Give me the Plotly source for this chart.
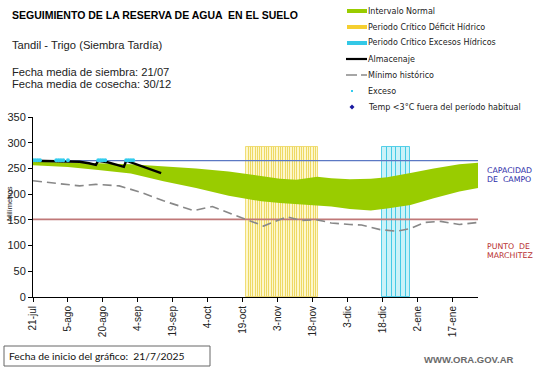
import plotly.graph_objects as go
import pandas as pd

# ---------------- data ----------------
start_date = "2025-07-21"
end_date = "2026-01-28"

tick_dates = ["2025-07-21", "2025-08-05", "2025-08-20", "2025-09-04", "2025-09-19",
              "2025-10-04", "2025-10-19", "2025-11-03", "2025-11-18", "2025-12-03",
              "2025-12-18", "2026-01-02", "2026-01-17"]
tick_labels = ["21-jul", "5-ago", "20-ago", "4-sep", "19-sep", "4-oct", "19-oct",
               "3-nov", "18-nov", "3-dic", "18-dic", "2-ene", "17-ene"]

normal_dates = ["2025-07-21", "2025-08-05", "2025-08-18", "2025-09-01", "2025-09-15",
                "2025-09-29", "2025-10-13", "2025-10-27", "2025-11-04", "2025-11-11",
                "2025-11-20", "2025-11-26", "2025-12-04", "2025-12-13", "2025-12-20",
                "2025-12-30", "2026-01-09", "2026-01-20", "2026-01-28"]
normal_upper = [263, 262, 260, 258, 254, 250, 244, 236, 230, 228, 234, 231, 229, 230,
                233, 241, 250, 258, 261]
normal_lower = [256, 253, 247, 240, 225, 212, 197, 186, 183, 181, 179, 176, 171, 168,
                172, 179, 192, 205, 212]

min_dates = ["2025-07-21", "2025-07-28", "2025-08-10", "2025-08-17", "2025-08-27",
             "2025-09-05", "2025-09-15", "2025-09-28", "2025-10-06", "2025-10-14",
             "2025-10-21", "2025-10-28", "2025-11-07", "2025-11-13", "2025-11-20",
             "2025-11-26", "2025-12-04", "2025-12-09", "2025-12-17", "2025-12-24",
             "2025-12-30", "2026-01-05", "2026-01-12", "2026-01-20", "2026-01-28"]
min_values = [226, 223, 216, 219, 216, 204, 187, 168, 176, 162, 150, 138, 156, 149, 150,
              144, 141, 140, 131, 128, 133, 145, 147, 141, 145]

alm_dates = ["2025-07-21", "2025-07-25", "2025-07-29", "2025-08-02", "2025-08-06",
             "2025-08-10", "2025-08-14", "2025-08-17", "2025-08-18", "2025-08-22",
             "2025-08-26", "2025-08-29", "2025-08-30", "2025-09-03", "2025-09-07",
             "2025-09-11", "2025-09-14"]
alm_values = [265, 264.5, 264, 264, 264, 263, 260, 257, 265, 262, 257, 253, 265, 259,
              252, 246, 241]

exceso_dates = ["2025-07-21", "2025-07-22", "2025-07-23", "2025-07-24",
                "2025-07-31", "2025-08-01", "2025-08-02", "2025-08-03", "2025-08-05",
                "2025-08-18", "2025-08-19", "2025-08-20", "2025-08-21",
                "2025-08-30", "2025-08-31", "2025-09-01", "2025-09-02"]
exceso_value = 266

deficit_start, deficit_end = "2025-10-21", "2025-11-20"
excesos_start, excesos_end = "2025-12-19", "2025-12-30"
critico_height = 292

capacidad_campo = 265
punto_marchitez = 151

# ---------------- geometry helpers (pixel -> paper) ----------------
W, H = 541, 368
L, R, T, B = 33, 478, 117, 297


def px(x):
    return (x - L) / (R - L)


def py(y):
    return (B - y) / (B - T)


FONT = "Liberation Sans, Arial, sans-serif"
SMALL = "DejaVu Sans, sans-serif"

fig = go.Figure()

# Intervalo normal
fig.add_trace(go.Scatter(x=normal_dates, y=normal_lower, mode="lines",
                         line=dict(width=0, color="#99cc00"), showlegend=False,
                         hoverinfo="skip"))
fig.add_trace(go.Scatter(x=normal_dates, y=normal_upper, mode="lines", fill="tonexty",
                         fillcolor="#99cc00", line=dict(width=0, color="#99cc00"),
                         showlegend=False))

# Periodo critico bars
def_days = pd.date_range(deficit_start, deficit_end, freq="D")
fig.add_trace(go.Bar(x=def_days, y=[critico_height] * len(def_days),
                     width=86400000, marker=dict(color="rgba(252,242,175,0.65)",
                                                 line=dict(color="rgba(236,214,90,0.8)", width=1)),
                     showlegend=False))
exc_days = pd.date_range(excesos_start, excesos_end, freq="2D")
fig.add_trace(go.Bar(x=exc_days, y=[critico_height] * len(exc_days),
                     width=86400000 * 2, marker=dict(color="rgba(175,235,245,0.65)",
                                                     line=dict(color="rgba(60,200,228,0.85)", width=1)),
                     showlegend=False))

# Reference lines
fig.add_trace(go.Scatter(x=[start_date, end_date], y=[capacidad_campo] * 2, mode="lines",
                         line=dict(color="#5b78c4", width=1.2), showlegend=False))
fig.add_trace(go.Scatter(x=[start_date, end_date], y=[punto_marchitez] * 2, mode="lines",
                         line=dict(color="#c07878", width=1.6), showlegend=False))

# Minimo historico
fig.add_trace(go.Scatter(x=min_dates, y=min_values, mode="lines",
                         line=dict(color="#888888", width=1.6, dash="9px,5px"),
                         showlegend=False))

# Almacenaje
fig.add_trace(go.Scatter(x=alm_dates, y=alm_values, mode="lines",
                         line=dict(color="#000000", width=2.4), showlegend=False))

# Exceso
fig.add_trace(go.Scatter(x=exceso_dates, y=[exceso_value] * len(exceso_dates), mode="markers",
                         marker=dict(color="#33ccee", size=4, symbol="circle"),
                         showlegend=False))

ann = []
shapes = []


def text(x, y, s, size, color="#222222", bold=False, family=FONT, anchor="left"):
    if bold:
        s = "<b>" + s + "</b>"
    ann.append(dict(x=px(x), y=py(y), xref="paper", yref="paper", text=s, showarrow=False,
                    xanchor=anchor, yanchor="middle",
                    font=dict(size=size, color=color, family=family)))


# Header texts
text(10, 15, "SEGUIMIENTO DE LA RESERVA DE AGUA  EN EL SUELO", 10.5, "#000000", bold=True)
text(10, 45, "Tandil - Trigo (Siembra Tardía)", 11.2, "#222222")
text(10, 72, "Fecha media de siembra: 21/07", 11.2, "#222222")
text(10, 84, "Fecha media de cosecha: 30/12", 11.2, "#222222")

# Legend (custom)
leg_rows = [11, 27, 43, 59, 75, 91, 107]
leg_text = ["Intervalo Normal", "Periodo Crítico Déficit Hídrico",
            "Periodo Crítico Excesos Hídricos", "Almacenaje", "Mínimo histórico",
            "Exceso", "Temp <3°C fuera del período habitual"]
for yy, s in zip(leg_rows, leg_text):
    text(366, yy, s, 8, "#222222", family=SMALL)
for yy, col in zip(leg_rows[:3], ["#99cc00", "#f5cf30", "#33c8e6"]):
    shapes.append(dict(type="rect", xref="paper", yref="paper", x0=px(347), x1=px(367),
                       y0=py(yy - 2), y1=py(yy + 2), fillcolor=col, line=dict(width=0)))
shapes.append(dict(type="line", xref="paper", yref="paper", x0=px(346), x1=px(367),
                   y0=py(59), y1=py(59), line=dict(color="#000000", width=2.2)))
shapes.append(dict(type="line", xref="paper", yref="paper", x0=px(346), x1=px(357),
                   y0=py(75), y1=py(75), line=dict(color="#888888", width=1.5)))
shapes.append(dict(type="line", xref="paper", yref="paper", x0=px(361), x1=px(367),
                   y0=py(75), y1=py(75), line=dict(color="#888888", width=1.5)))
shapes.append(dict(type="rect", xref="paper", yref="paper", x0=px(351), x1=px(353),
                   y0=py(90), y1=py(92), fillcolor="#33ccee", line=dict(width=0)))
shapes.append(dict(type="path", xref="paper", yref="paper",
                   path=f"M {px(352)},{py(104.5)} L {px(354.5)},{py(107)} L {px(352)},{py(109.5)} L {px(349.5)},{py(107)} Z",
                   fillcolor="#1a1aa0", line=dict(width=0)))

# Right labels
text(485, 170, "CAPACIDAD", 7.8, "#2c2ca8", family=SMALL)
text(485, 179, "DE  CAMPO", 7.8, "#2c2ca8", family=SMALL)
text(485, 246, "PUNTO  DE", 7.8, "#b83030", family=SMALL)
text(485, 255, "MARCHITEZ", 7.8, "#b83030", family=SMALL)

# Y title
ann.append(dict(x=px(9), y=py(204), xref="paper", yref="paper", text="Milímetros",
                showarrow=False, textangle=-90, xanchor="center", yanchor="middle",
                font=dict(size=7.5, color="#222222", family=FONT)))

# Footer
shapes.append(dict(type="rect", xref="paper", yref="paper", x0=px(4), x1=px(210),
                   y0=py(346), y1=py(366), fillcolor="rgba(0,0,0,0)",
                   line=dict(color="#666666", width=1)))
text(7, 356, "Fecha de inicio del gráfico:  21/7/2025", 10.3, "#111111", family="Lato, Carlito, sans-serif")
text(516, 359, "WWW.ORA.GOV.AR", 9.5, "#6a6a6a", bold=True, anchor="right")

fig.update_layout(
    width=W, height=H,
    margin=dict(l=L, r=W - R, t=T, b=H - B, autoexpand=False),
    paper_bgcolor="white", plot_bgcolor="white",
    barmode="overlay", bargap=0,
    annotations=ann, shapes=shapes,
    font=dict(family=FONT, color="#222222"),
    showlegend=False,
    xaxis=dict(type="date", range=[start_date, end_date], tickvals=tick_dates,
               ticktext=tick_labels, tickangle=-90, tickfont=dict(size=10, color="#222222"),
               showline=True, linecolor="#000000", linewidth=1, ticks="outside",
               ticklen=4, tickcolor="#000000", showgrid=False, zeroline=False,
               automargin=False),
    yaxis=dict(range=[0, 350], dtick=50, tickfont=dict(size=11, color="#222222"),
               showline=True, linecolor="#000000", linewidth=1, ticks="outside",
               ticklen=4, tickcolor="#000000", showgrid=False, zeroline=False,
               automargin=False),
)

fig.write_html("out.html", config={"displayModeBar": False},
               post_script="document.body.style.margin='0';document.body.style.overflow='hidden';")
